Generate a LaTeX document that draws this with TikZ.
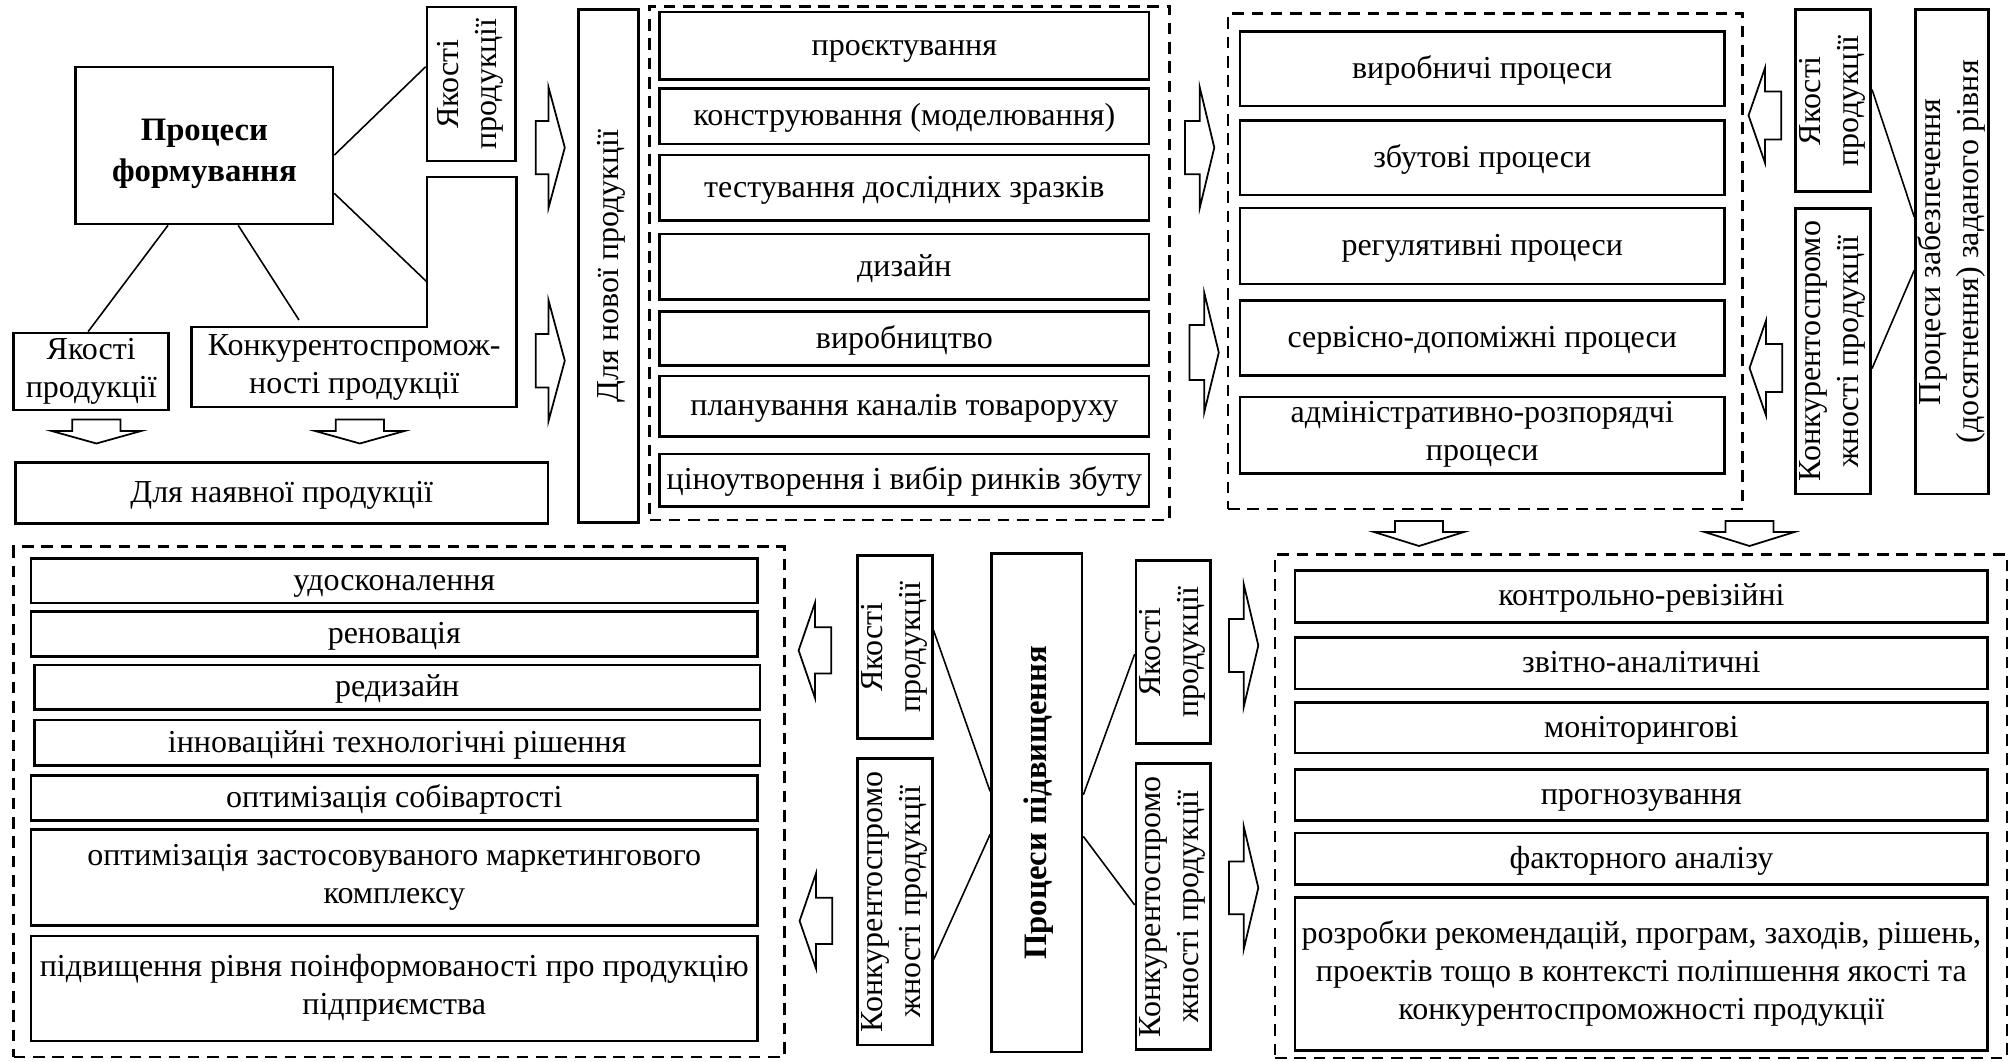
\documentclass[tikz,border=0pt]{standalone}
\usepackage{fontspec}
\setmainfont{Liberation Serif}
\usetikzlibrary{calc}

\begin{document}
\begin{tikzpicture}[x=0.01cm,y=-0.01cm,
	font=\fontsize{9.1}{10.8}\selectfont,
	spot/.style args={#1/#2/#3/#4}{at={({(#1+#3)/2},{(#2+#4)/2})},
		minimum width={(#3-#1)*0.01cm}, minimum height={(#4-#2)*0.01cm}},
	vspot/.style args={#1/#2/#3/#4}{at={({(#1+#3)/2},{(#2+#4)/2})}, rotate=90,
		minimum width={(#4-#2)*0.01cm}, minimum height={(#3-#1)*0.01cm}},
	box/.style={draw, line width=0.75pt, inner sep=0.5pt, align=center,
		execute at begin node={\rule[-2.2pt]{0pt}{9.8pt}},
		execute at end node={\rule[-2.2pt]{0pt}{9.8pt}}},
	frame/.style={draw, line width=0.8pt, dash pattern=on 3.3pt off 2.2pt},
	link/.style={line width=0.45pt},
	head/.style={font=\fontsize{9.3}{11.7}\selectfont\bfseries},
	pics/barrow/.style args={#1/#2/#3/#4}{code={
		\draw[line width=0.5pt] (0,-#2) -- (#1,-#2) -- (#1,-#4) -- ({#1+#3},0)
		-- (#1,#4) -- (#1,#2) -- (0,#2) -- cycle;}}]
		\useasboundingbox (0,0) rectangle (2013,1061);
		%processes of forming
		\node[box,head,spot=75.8/67/333/224] (form) {\rule[-2.2pt]{0pt}{13pt}Процеси\\формування};
		\node[box,vspot=427/6.9/515.5/161] (qtop) {Якості\\продукції};
		\node[box,spot=13.8/333/168.7/410] (qlow) {Якості\\продукції};
		\draw[line width=0.75pt] (427,177) -- (516.5,177) -- (516.5,407) -- (191.8,407)
		-- (191.8,327) -- (427,327) -- cycle;
		\node[align=center] (kform) at (354.2,367) {Конкурентоспромож-\\ності продукції};
		\coordinate (kform-side) at (427,282);
		\coordinate (kform-top) at (299,320);
		\draw[link] ($(form.north east)!.56!(form.south east)$) -- ($(qtop.north east)!.39!(qtop.north west)$);
		\draw[link] ($(form.north east)!.80!(form.south east)$) -- (kform-side);
		\draw[link] ($(form.south west)!.36!(form.south east)$) -- ($(qlow.north west)!.48!(qlow.north east)$);
		\draw[link] ($(form.south west)!.63!(form.south east)$) -- (kform-top);
		\pic[rotate=-90] at (96.4,419.4) {barrow=11.6/24.1/12.5/44.7};
		\pic[rotate=-90] at (359.8,419.4) {barrow=11.6/24.1/12.5/44.7};
		\node[box,spot=15.5/462.5/548/523.4] (exist) {Для наявної продукції};
		\pic at (535.8,147.6) {barrow=12.8/26.7/16.2/60};
		\pic at (535.8,360.7) {barrow=12.8/26.7/16.2/60};
		\node[box,vspot=578.6/9.6/638.8/522.7] (newv) {Для нової продукції};
		%new product
		\node[frame,spot=649.5/6.2/1169.5/520] (frnew) {};
		\foreach \a/\b/\t [count=\i] in {12/79.2/проєктування,
			88.8/143.9/конструювання (моделювання),
			155/220.4/тестування дослідних зразків,
			234/299.6/дизайн,
			311.6/365.7/виробництво,
			376/436.6/планування каналів товароруху,
			453.9/506.2/ціноутворення і вибір ринків збуту}
		\node[box,spot=659.8/\a/1148.9/\b] (new\i) {\t};
		\pic at (1185,147.6) {barrow=14.8/26.7/14.5/60};
		\pic at (1189.5,352.5) {barrow=14.8/27.5/14.5/59.4};
		%processes
		\node[frame,spot=1228/13.8/1742.6/509] (frproc) {};
		\foreach \a/\b/\t [count=\i] in {31.7/106/виробничі процеси,
			120.5/195/збутові процеси,
			208/284/регулятивні процеси,
			300.6/375.3/сервісно-допоміжні процеси,
			397/473.5/адміністративно-розпорядчі\\процеси}
		\node[box,spot=1240/\a/1724.4/\b] (proc\i) {\t};
		\pic[rotate=180] at (1781.2,115.4) {barrow=16.2/24/16.5/47.5};
		\pic[rotate=180] at (1782.2,368) {barrow=16.2/24/16.5/47.5};
		\node[box,vspot=1795.7/9.6/1870.7/191.8] (qright) {Якості\\продукції};
		\node[box,vspot=1795.7/208.3/1870.7/494.1] (kright) {Конкурентоспромо\\жності продукції};
		\node[box,vspot=1915.5/9.6/1988.5/494.1] (zab) {Процеси забезпечення\\(досягнення) заданого рівня};
		\draw[link] ($(qright.south east)!.44!(qright.south west)$) -- ($(zab.north east)!.428!(zab.north west)$);
		\draw[link] ($(kright.south east)!.56!(kright.south west)$) -- ($(zab.north east)!.538!(zab.north west)$);
		\pic[rotate=-90] at (1419,521) {barrow=11/24/14/45};
		\pic[rotate=-90] at (1749.5,521) {barrow=11/24/14/45};
		%improvement
		\node[frame,spot=13.8/546.8/784.1/1057] (frimpr) {};
		\foreach \l/\a/\r/\b/\t [count=\i] in {31/558.2/757.5/603/удосконалення,
			31/611.6/757.5/656.3/реновація,
			34.4/665/760/709.7/редизайн,
			34.4/720/760/765.5/інноваційні технологічні рішення,
			31/775.8/757.5/820.6/оптимізація собівартості,
			31/829.2/757.5/925.6/оптимізація застосовуваного маркетингового\\комплексу,
			31/936/757.5/1041/підвищення рівня поінформованості про продукцію\\підприємства}
		\node[box,spot=\l/\a/\r/\b] (impr\i) {\t};
		\pic[rotate=180] at (831.3,650.4) {barrow=16.2/23.2/16.5/47.9};
		\pic[rotate=180] at (832.3,920.9) {barrow=16.2/23.2/16.5/47.9};
		\node[box,vspot=857.5/555.4/932.2/738.6] (qL) {Якості\\продукції};
		\node[box,vspot=857.5/758.6/932.2/1045.1] (kL) {Конкурентоспромо\\жності продукції};
		\node[box,head,vspot=991.4/553.7/1082/1052] (pidv) {Процеси підвищення};
		\node[box,vspot=1136/560.6/1210.4/743.8] (qR) {Якості\\продукції};
		\node[box,vspot=1136/763.8/1210.4/1049.6] (kR) {Конкурентоспромо\\жності продукції};
		\draw[link] ($(qL.south east)!.41!(qL.south west)$) -- ($(pidv.north east)!.477!(pidv.north west)$);
		\draw[link] ($(kL.south east)!.70!(kL.south west)$) -- ($(pidv.north east)!.563!(pidv.north west)$);
		\draw[link] ($(pidv.south east)!.484!(pidv.south west)$) -- ($(qR.north east)!.51!(qR.north west)$);
		\draw[link] ($(pidv.south east)!.567!(pidv.south west)$) -- ($(kR.north east)!.494!(kR.north west)$);
		\pic at (1229,645.5) {barrow=14.8/26.4/14.5/61};
		\pic at (1229,887.8) {barrow=14.8/26.4/14.5/61};
		%control
		\node[frame,spot=1275/554.6/2007/1058] (frctrl) {};
		\foreach \a/\b/\t [count=\i] in {570.6/622.3/контрольно-ревізійні,
			637.4/689.1/звітно-аналітичні,
			702.2/753.1/моніторингові,
			769.3/820.3/прогнозування,
			833/884.7/факторного аналізу,
			{897.8/1050.7/розробки рекомендацій, програм, заходів, рішень,\\проектів тощо в контексті поліпшення якості та\\конкурентоспроможності продукції}}
		\node[box,spot=1295/\a/1987.7/\b] (ctrl\i) {\t};
		\end{tikzpicture}
\end{document}
